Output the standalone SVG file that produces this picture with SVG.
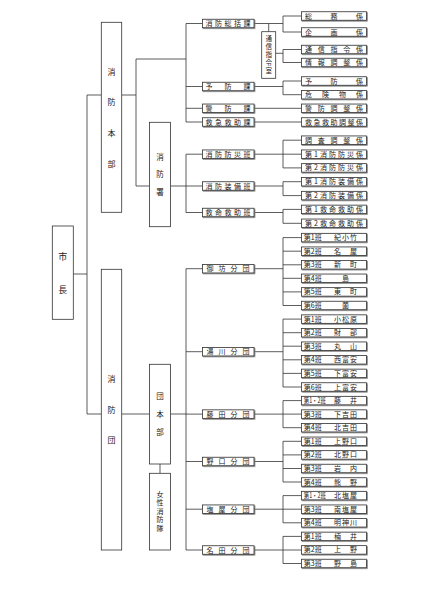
<svg xmlns="http://www.w3.org/2000/svg" width="447" height="600" viewBox="0 0 447 600">
<defs>
<filter id="sh" x="-5%" y="-20%" width="115%" height="160%">
<feDropShadow dx="0.8" dy="0.8" stdDeviation="0" flood-color="#777"/>
</filter>
</defs>
<style>
.b{fill:#fff;stroke:#333;stroke-width:0.8}
.s{filter:url(#sh)}
.t{font-family:"Noto Sans CJK JP","Noto Sans CJK SC",sans-serif;font-size:7px;fill:#222}
.v{font-family:"Noto Sans CJK JP","Noto Sans CJK SC",sans-serif;fill:#222;text-anchor:middle}
.vr{writing-mode:vertical-rl}
.c{fill:none;stroke:#333;stroke-width:0.8}
</style>
<rect width="447" height="600" fill="#fff"/>
<g id="connectors" class="c">
<path d="M73.3 274H87M87 95V414M87 95H101.3M87 414H101.3M121.7 95H136M136 59V186M136 59H186M136 186H149.5
M186 23.5V122M186 23.5H202.5M186 86.5H202.5M186 108.3H202.5M186 122H202.5
M254 23.5H283M283 16V32M283 16H301.5M283 32H301.5M268.7 23.5V31.7
M275.7 53.3H283M283 49.5V62.5M283 49.5H301.5M283 62.5H301.5
M254 86.5H283M283 81V94.7M283 81H301.5M283 94.7H301.5
M254 108.3H301.5M254 122H301.5
M170.5 186H186M186 154.2V212.5M186 154.2H202.5M186 186H202.5M186 212.5H202.5
M254 154.2H301.5M283 140.2V167.9M283 140.2H301.5M283 167.9H301.5
M254 186H283M283 181.7V195.6M283 181.7H301.5M283 195.6H301.5
M254 212.5H283M283 209.4V223.3M283 209.4H301.5M283 223.3H301.5
M121.7 414H149.5M160 464V473.3M170.5 414H186M186 268.7V550
M186 268.7H202.5M186 351.7H202.5M186 414.1H202.5M186 461.5H202.5M186 509.2H202.5M186 550H202.5
M254 268.7H283M283 237.6V305.5M283 237.6H301.5M283 251.2H301.5M283 264.8H301.5M283 278.3H301.5M283 291.9H301.5M283 305.5H301.5
M254 351.7H283M283 319.1V387M283 319.1H301.5M283 332.7H301.5M283 346.2H301.5M283 359.8H301.5M283 373.4H301.5M283 387H301.5
M254 414.1H301.5M283 400.6V427.7M283 400.6H301.5M283 427.7H301.5
M254 461.5H283M283 441.3V482M283 441.3H301.5M283 454.9H301.5M283 468.5H301.5M283 482H301.5
M254 509.2H301.5M283 495.6V522.8M283 495.6H301.5M283 522.8H301.5
M254 550H301.5M283 536.4V563.5M283 536.4H301.5M283 563.5H301.5"/>
</g>
<g id="shicho"><rect class="b" x="52.3" y="226" width="21" height="93.3"/><text class="v" style="font-size:9px"><tspan x="62.8" y="260">市</tspan><tspan x="62.8" y="293.4">長</tspan></text></g>
<g id="honbu"><rect class="b" x="101.3" y="22.3" width="20.4" height="190"/><text class="v" style="font-size:8px"><tspan x="111.5" y="74.7">消</tspan><tspan x="111.5" y="105">防</tspan><tspan x="111.5" y="136">本</tspan><tspan x="111.5" y="167">部</tspan></text></g>
<g id="shobosho"><rect class="b" x="149.5" y="122.3" width="21" height="104.4"/><text class="v" style="font-size:7.5px"><tspan x="160" y="159.5">消</tspan><tspan x="160" y="176.8">防</tspan><tspan x="160" y="194.5">署</tspan></text></g>
<g id="shobodan"><rect class="b" x="101.3" y="269.3" width="20.4" height="280.7"/><text class="v" style="font-size:8px"><tspan x="111.5" y="382">消</tspan><tspan x="111.5" y="413">防</tspan><tspan x="111.5" y="443">団</tspan></text></g>
<g id="danhonbu"><rect class="b" x="149.5" y="364.3" width="21" height="99.7"/><text class="v" style="font-size:7.5px"><tspan x="160" y="398.8">団</tspan><tspan x="160" y="416.8">本</tspan><tspan x="160" y="434.5">部</tspan></text></g>
<g id="josei"><rect class="b" x="149.5" y="473.3" width="21" height="76.7"/><text class="v vr" style="font-size:7px;letter-spacing:1.6px" x="160" y="512">女性消防隊</text></g>
<g id="tsushin"><rect class="b" x="261.7" y="31.7" width="14" height="46.6"/><text class="v vr" style="font-size:6.5px;letter-spacing:1.5px" x="268.7" y="55.3">通信指令室</text></g>
<g id="m-sokatsu"><rect class="b s" x="202.5" y="19.25" width="51.5" height="8.5"/><text class="t" x="205.5" y="26" textLength="45" lengthAdjust="spacing">消防総括課</text></g>
<g id="m-yobo"><rect class="b s" x="202.5" y="82.25" width="51.5" height="8.5"/><text class="t" x="205.5" y="89" textLength="45" lengthAdjust="spacing">予防課</text></g>
<g id="m-keibo"><rect class="b s" x="202.5" y="104.05" width="51.5" height="8.5"/><text class="t" x="205.5" y="110.8" textLength="45" lengthAdjust="spacing">警防課</text></g>
<g id="m-kyukyu"><rect class="b s" x="202.5" y="117.75" width="51.5" height="8.5"/><text class="t" x="205.5" y="124.5" textLength="45" lengthAdjust="spacing">救急救助課</text></g>
<g id="m-bosai"><rect class="b s" x="202.5" y="149.95" width="51.5" height="8.5"/><text class="t" x="205.5" y="156.7" textLength="45" lengthAdjust="spacing">消防防災班</text></g>
<g id="m-sobi"><rect class="b s" x="202.5" y="181.75" width="51.5" height="8.5"/><text class="t" x="205.5" y="188.5" textLength="45" lengthAdjust="spacing">消防装備班</text></g>
<g id="m-kyumei"><rect class="b s" x="202.5" y="208.25" width="51.5" height="8.5"/><text class="t" x="205.5" y="215" textLength="45" lengthAdjust="spacing">救命救助班</text></g>
<g id="m-gobo"><rect class="b s" x="202.5" y="264.45" width="51.5" height="8.5"/><text class="t" x="206.5" y="271.2" textLength="43" lengthAdjust="spacing">御坊分団</text></g>
<g id="m-yukawa"><rect class="b s" x="202.5" y="347.45" width="51.5" height="8.5"/><text class="t" x="206.5" y="354.2" textLength="43" lengthAdjust="spacing">湯川分団</text></g>
<g id="m-fujita"><rect class="b s" x="202.5" y="409.85" width="51.5" height="8.5"/><text class="t" x="206.5" y="416.6" textLength="43" lengthAdjust="spacing">藤田分団</text></g>
<g id="m-noguchi"><rect class="b s" x="202.5" y="457.25" width="51.5" height="8.5"/><text class="t" x="206.5" y="464" textLength="43" lengthAdjust="spacing">野口分団</text></g>
<g id="m-shioya"><rect class="b s" x="202.5" y="504.95" width="51.5" height="8.5"/><text class="t" x="206.5" y="511.7" textLength="43" lengthAdjust="spacing">塩屋分団</text></g>
<g id="m-nada"><rect class="b s" x="202.5" y="545.75" width="51.5" height="8.5"/><text class="t" x="206.5" y="552.5" textLength="43" lengthAdjust="spacing">名田分団</text></g>
<g id="l-somu"><rect class="b s" x="301.5" y="11.75" width="65" height="8.5"/><text class="t" x="305" y="18.5" textLength="58" lengthAdjust="spacing">総務係</text></g>
<g id="l-kikaku"><rect class="b s" x="301.5" y="27.75" width="65" height="8.5"/><text class="t" x="305" y="34.5" textLength="58" lengthAdjust="spacing">企画係</text></g>
<g id="l-tsushin"><rect class="b s" x="301.5" y="45.25" width="65" height="8.5"/><text class="t" x="305" y="52" textLength="58" lengthAdjust="spacing">通信指令係</text></g>
<g id="l-joho"><rect class="b s" x="301.5" y="58.25" width="65" height="8.5"/><text class="t" x="305" y="65" textLength="58" lengthAdjust="spacing">情報調整係</text></g>
<g id="l-yobo"><rect class="b s" x="301.5" y="76.75" width="65" height="8.5"/><text class="t" x="305" y="83.5" textLength="58" lengthAdjust="spacing">予防係</text></g>
<g id="l-kiken"><rect class="b s" x="301.5" y="90.45" width="65" height="8.5"/><text class="t" x="305" y="97.2" textLength="58" lengthAdjust="spacing">危険物係</text></g>
<g id="l-keibo"><rect class="b s" x="301.5" y="104.05" width="65" height="8.5"/><text class="t" x="305" y="110.8" textLength="58" lengthAdjust="spacing">警防調整係</text></g>
<g id="l-kyukyu"><rect class="b s" x="301.5" y="117.75" width="65" height="8.5"/><text class="t" x="305" y="124.5" textLength="58" lengthAdjust="spacing">救急救助調整係</text></g>
<g id="l-chosa"><rect class="b s" x="301.5" y="135.95" width="65" height="8.5"/><text class="t" x="305" y="142.7" textLength="58" lengthAdjust="spacing">調査調整係</text></g>
<g id="l-bosai1"><rect class="b s" x="301.5" y="149.95" width="65" height="8.5"/><text class="t" x="305" y="156.7" textLength="58" lengthAdjust="spacing">第1消防防災係</text></g>
<g id="l-bosai2"><rect class="b s" x="301.5" y="163.65" width="65" height="8.5"/><text class="t" x="305" y="170.4" textLength="58" lengthAdjust="spacing">第2消防防災係</text></g>
<g id="l-sobi1"><rect class="b s" x="301.5" y="177.45" width="65" height="8.5"/><text class="t" x="305" y="184.2" textLength="58" lengthAdjust="spacing">第1消防装備係</text></g>
<g id="l-sobi2"><rect class="b s" x="301.5" y="191.35" width="65" height="8.5"/><text class="t" x="305" y="198.1" textLength="58" lengthAdjust="spacing">第2消防装備係</text></g>
<g id="l-kyumei1"><rect class="b s" x="301.5" y="205.15" width="65" height="8.5"/><text class="t" x="305" y="211.9" textLength="58" lengthAdjust="spacing">第1救命救助係</text></g>
<g id="l-kyumei2"><rect class="b s" x="301.5" y="219.05" width="65" height="8.5"/><text class="t" x="305" y="225.8" textLength="58" lengthAdjust="spacing">第2救命救助係</text></g>
<g id="l-gobo1"><rect class="b s" x="301.5" y="233.35" width="65" height="8.5"/><text class="t" x="303.8" y="240.1">第1班</text><text class="t" x="334" y="240.1" textLength="23" lengthAdjust="spacing">紀小竹</text></g>
<g id="l-gobo2"><rect class="b s" x="301.5" y="246.95" width="65" height="8.5"/><text class="t" x="303.8" y="253.7">第2班</text><text class="t" x="334" y="253.7" textLength="23" lengthAdjust="spacing">名屋</text></g>
<g id="l-gobo3"><rect class="b s" x="301.5" y="260.55" width="65" height="8.5"/><text class="t" x="303.8" y="267.3">第3班</text><text class="t" x="334" y="267.3" textLength="23" lengthAdjust="spacing">新町</text></g>
<g id="l-gobo4"><rect class="b s" x="301.5" y="274.05" width="65" height="8.5"/><text class="t" x="303.8" y="280.8">第4班</text><text class="t" x="345.5" y="280.8" text-anchor="middle">島</text></g>
<g id="l-gobo5"><rect class="b s" x="301.5" y="287.65" width="65" height="8.5"/><text class="t" x="303.8" y="294.4">第5班</text><text class="t" x="334" y="294.4" textLength="23" lengthAdjust="spacing">東町</text></g>
<g id="l-gobo6"><rect class="b s" x="301.5" y="301.25" width="65" height="8.5"/><text class="t" x="303.8" y="308">第6班</text><text class="t" x="345.5" y="308" text-anchor="middle">薗</text></g>
<g id="l-yukawa1"><rect class="b s" x="301.5" y="314.85" width="65" height="8.5"/><text class="t" x="303.8" y="321.6">第1班</text><text class="t" x="334" y="321.6" textLength="23" lengthAdjust="spacing">小松原</text></g>
<g id="l-yukawa2"><rect class="b s" x="301.5" y="328.45" width="65" height="8.5"/><text class="t" x="303.8" y="335.2">第2班</text><text class="t" x="334" y="335.2" textLength="23" lengthAdjust="spacing">財部</text></g>
<g id="l-yukawa3"><rect class="b s" x="301.5" y="341.95" width="65" height="8.5"/><text class="t" x="303.8" y="348.7">第3班</text><text class="t" x="334" y="348.7" textLength="23" lengthAdjust="spacing">丸山</text></g>
<g id="l-yukawa4"><rect class="b s" x="301.5" y="355.55" width="65" height="8.5"/><text class="t" x="303.8" y="362.3">第4班</text><text class="t" x="334" y="362.3" textLength="23" lengthAdjust="spacing">西富安</text></g>
<g id="l-yukawa5"><rect class="b s" x="301.5" y="369.15" width="65" height="8.5"/><text class="t" x="303.8" y="375.9">第5班</text><text class="t" x="334" y="375.9" textLength="23" lengthAdjust="spacing">下富安</text></g>
<g id="l-yukawa6"><rect class="b s" x="301.5" y="382.75" width="65" height="8.5"/><text class="t" x="303.8" y="389.5">第6班</text><text class="t" x="334" y="389.5" textLength="23" lengthAdjust="spacing">上富安</text></g>
<g id="l-fujita1"><rect class="b s" x="301.5" y="396.35" width="65" height="8.5"/><text class="t" x="303.8" y="403.1" textLength="22" lengthAdjust="spacingAndGlyphs">第1・2班</text><text class="t" x="334" y="403.1" textLength="23" lengthAdjust="spacing">藤井</text></g>
<g id="l-fujita3"><rect class="b s" x="301.5" y="409.85" width="65" height="8.5"/><text class="t" x="303.8" y="416.6">第3班</text><text class="t" x="334" y="416.6" textLength="23" lengthAdjust="spacing">下吉田</text></g>
<g id="l-fujita4"><rect class="b s" x="301.5" y="423.45" width="65" height="8.5"/><text class="t" x="303.8" y="430.2">第4班</text><text class="t" x="334" y="430.2" textLength="23" lengthAdjust="spacing">北吉田</text></g>
<g id="l-noguchi1"><rect class="b s" x="301.5" y="437.05" width="65" height="8.5"/><text class="t" x="303.8" y="443.8">第1班</text><text class="t" x="334" y="443.8" textLength="23" lengthAdjust="spacing">上野口</text></g>
<g id="l-noguchi2"><rect class="b s" x="301.5" y="450.65" width="65" height="8.5"/><text class="t" x="303.8" y="457.4">第2班</text><text class="t" x="334" y="457.4" textLength="23" lengthAdjust="spacing">北野口</text></g>
<g id="l-noguchi3"><rect class="b s" x="301.5" y="464.25" width="65" height="8.5"/><text class="t" x="303.8" y="471">第3班</text><text class="t" x="334" y="471" textLength="23" lengthAdjust="spacing">岩内</text></g>
<g id="l-noguchi4"><rect class="b s" x="301.5" y="477.75" width="65" height="8.5"/><text class="t" x="303.8" y="484.5">第4班</text><text class="t" x="334" y="484.5" textLength="23" lengthAdjust="spacing">熊野</text></g>
<g id="l-shioya1"><rect class="b s" x="301.5" y="491.35" width="65" height="8.5"/><text class="t" x="303.8" y="498.1" textLength="22" lengthAdjust="spacingAndGlyphs">第1・2班</text><text class="t" x="334" y="498.1" textLength="23" lengthAdjust="spacing">北塩屋</text></g>
<g id="l-shioya3"><rect class="b s" x="301.5" y="504.95" width="65" height="8.5"/><text class="t" x="303.8" y="511.7">第3班</text><text class="t" x="334" y="511.7" textLength="23" lengthAdjust="spacing">南塩屋</text></g>
<g id="l-shioya4"><rect class="b s" x="301.5" y="518.55" width="65" height="8.5"/><text class="t" x="303.8" y="525.3">第4班</text><text class="t" x="334" y="525.3" textLength="23" lengthAdjust="spacing">明神川</text></g>
<g id="l-nada1"><rect class="b s" x="301.5" y="532.15" width="65" height="8.5"/><text class="t" x="303.8" y="538.9">第1班</text><text class="t" x="334" y="538.9" textLength="23" lengthAdjust="spacing">楠井</text></g>
<g id="l-nada2"><rect class="b s" x="301.5" y="545.65" width="65" height="8.5"/><text class="t" x="303.8" y="552.4">第2班</text><text class="t" x="334" y="552.4" textLength="23" lengthAdjust="spacing">上野</text></g>
<g id="l-nada3"><rect class="b s" x="301.5" y="559.25" width="65" height="8.5"/><text class="t" x="303.8" y="566">第3班</text><text class="t" x="334" y="566" textLength="23" lengthAdjust="spacing">野島</text></g>
</svg>
